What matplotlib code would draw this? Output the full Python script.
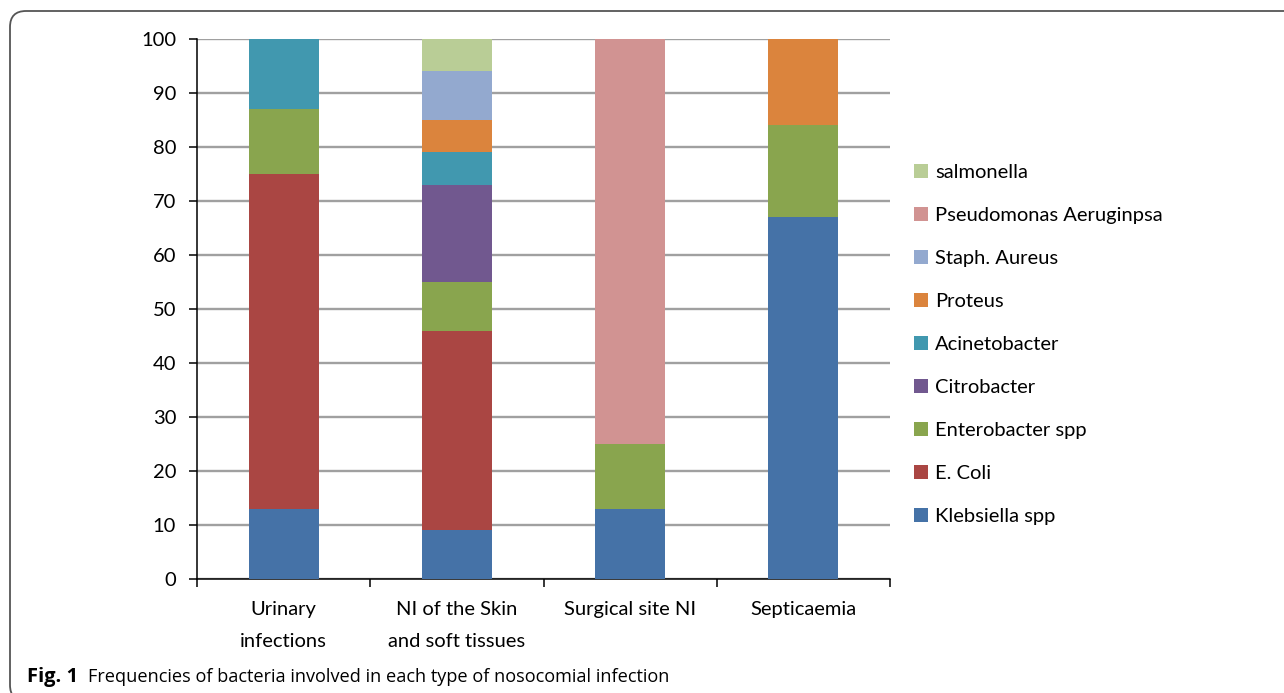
import matplotlib
matplotlib.use("Agg")
import matplotlib.pyplot as plt
from matplotlib.patches import FancyBboxPatch
from matplotlib.transforms import IdentityTransform
import numpy as np

# infection types and bacteria shares (%)
categories = ["Urinary\ninfections", "NI of the Skin\nand soft tissues",
              "Surgical site NI", "Septicaemia"]
bacteria = ["Klebsiella spp", "E. Coli", "Enterobacter spp", "Citrobacter",
            "Acinetobacter", "Proteus", "Staph. Aureus",
            "Pseudomonas Aeruginpsa", "salmonella"]
klebsiella = [13, 9, 13, 67]
e_coli = [62, 37, 0, 0]
enterobacter = [12, 9, 12, 17]
citrobacter = [0, 18, 0, 0]
acinetobacter = [13, 6, 0, 0]
proteus = [0, 6, 0, 16]
staph = [0, 9, 0, 0]
pseudomonas = [0, 0, 75, 0]
salmonella = [0, 6, 0, 0]

series = [klebsiella, e_coli, enterobacter, citrobacter, acinetobacter,
          proteus, staph, pseudomonas, salmonella]
colors = ["#4572A7", "#AA4643", "#89A54E", "#71588F", "#4198AF",
          "#DB843D", "#93A9CF", "#D19392", "#B9CD96"]

plt.rcParams["font.family"] = ["Lato", "DejaVu Sans"]

fig = plt.figure(figsize=(12.84, 6.93), dpi=100)
ax = fig.add_axes([197 / 1284, 114 / 693, 693 / 1284, 540 / 693])

x = np.arange(len(categories))
bottom = np.zeros(len(categories))
handles = []
for vals, name, col in zip(series, bacteria, colors):
    b = ax.bar(x, vals, width=0.404, bottom=bottom, color=col,
               label=name, zorder=3, linewidth=0)
    handles.append(b)
    bottom += np.array(vals)

ax.set_ylim(0, 100)
ax.set_xlim(-0.5, 3.5)
ax.set_yticks(range(0, 101, 10))
ax.yaxis.grid(True, color="#a0a0a0", linewidth=1.7, zorder=0)
ax.set_axisbelow(True)

ax.set_xticks(x)
ax.set_xticklabels(categories, fontsize=14.5, linespacing=2.05)
ax.set_xticks(np.arange(-0.5, 4, 1), minor=True)
ax.tick_params(axis="x", which="major", length=0, pad=16)
ax.tick_params(axis="x", which="minor", length=6, width=1.1, direction="out")
ax.tick_params(axis="y", length=6, width=1.1, direction="out", pad=9,
               labelsize=14.5)

for s in ["top", "right"]:
    ax.spines[s].set_visible(False)
for s in ["left", "bottom"]:
    ax.spines[s].set_linewidth(1.1)
    ax.spines[s].set_color("black")

ax.legend(handles[::-1], bacteria[::-1], loc="center left",
          bbox_to_anchor=(914 / 1284, 0.503), bbox_transform=fig.transFigure,
          frameon=False, fontsize=14.5, handlelength=0.7, handleheight=0.7,
          handletextpad=0.36, labelspacing=1.29, borderpad=0,
          borderaxespad=0)

# rounded frame around the figure, open at right and bottom
frame = FancyBboxPatch((10, -8), 1500, 682 + 8, transform=IdentityTransform(),
                       boxstyle="round,pad=0,rounding_size=16",
                       facecolor="none", edgecolor="#555555", linewidth=1.3)
fig.patches.append(frame)

cap_y = 11 / 693
fig.text(27 / 1284, cap_y, "Fig. 1", fontsize=14.5, fontweight="bold",
         family=["Open Sans", "DejaVu Sans"], va="baseline", ha="left")
fig.text(88 / 1284, cap_y,
         "Frequencies of bacteria involved in each type of nosocomial infection",
         fontsize=13.1, family=["Open Sans", "DejaVu Sans"],
         va="baseline", ha="left")

fig.savefig("out.png", dpi=100)
